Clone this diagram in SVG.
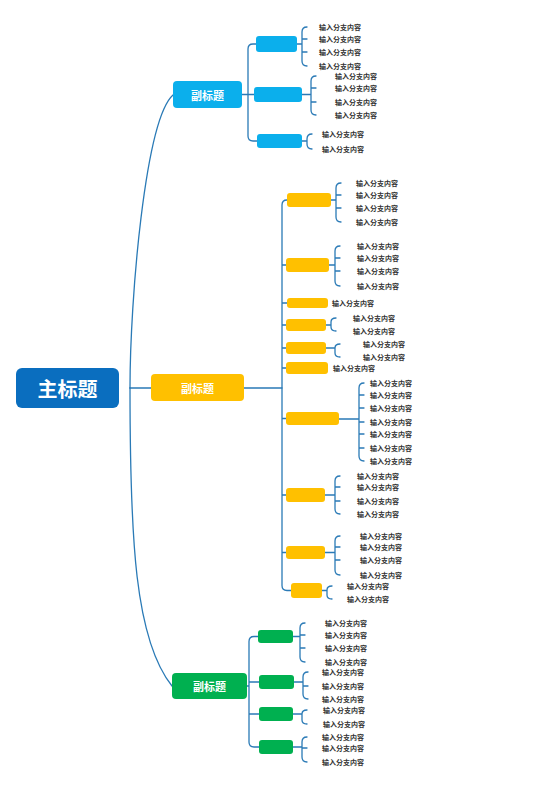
<svg xmlns="http://www.w3.org/2000/svg" width="560" height="792" viewBox="0 0 560 792">
<style>
.c{fill:none;stroke:#2a7ab6;stroke-width:1.3;stroke-linecap:round;stroke-linejoin:round}
.t{font-family:"Noto Sans CJK SC","Liberation Sans",sans-serif;font-size:7px;font-weight:bold;fill:#333;dominant-baseline:central}
.st{font-family:"Noto Sans CJK SC","Liberation Sans",sans-serif;font-size:11px;font-weight:bold;fill:#fff;text-anchor:middle;dominant-baseline:central}
.mt{font-family:"Noto Sans CJK SC","Liberation Sans",sans-serif;font-size:20px;font-weight:bold;fill:#fff;text-anchor:middle;dominant-baseline:central}
.b{fill:#0bafec}.y{fill:#ffc000}.g{fill:#00b050}
</style>
<rect width="560" height="792" fill="#fff"/>
<g id="connectors">
<path class="c" d="M130,388 C130,300 145,120 173,95"/>
<path class="c" d="M130,388 C130,540 135,640 172,686"/>
<path class="c" d="M130,388 H151 M244,388 H282"/>
<!-- blue -->
<path class="c" d="M242,94.5 H254 M256,44 H253 Q248,44 248,49 V136 Q248,141 253,141 H257"/>
<path class="c" d="M297,44 H302 M307,27 Q302,27 302,32 V61 Q302,66 307,66 M302,39 H307 M302,52 H307"/>
<path class="c" d="M302,94.5 H311 M316,76 Q311,76 311,81 V110 Q311,115 316,115 M311,88 H316 M311,102 H316"/>
<path class="c" d="M302,141 H307 M312,134 Q307,134 307,139 V144 Q307,149 312,149"/>
<!-- yellow -->
<path class="c" d="M287,200 Q282,200 282,205 V585.5 Q282,590.5 287,590.5 H291 M282,265 H286 M282,303 H287 M282,325 H286 M282,348 H286 M282,368 H286 M282,418.5 H286 M282,495 H286 M282,552.5 H286"/>
<path class="c" d="M331,200 H336 M341,183 Q336,183 336,188 V217 Q336,222 341,222 M336,195 H341 M336,208 H341"/>
<path class="c" d="M329,265 H335 M340,246 Q335,246 335,251 V281 Q335,286 340,286 M335,258 H340 M335,271 H340"/>
<path class="c" d="M326,325 H331 M336,318 Q331,318 331,322 V327 Q331,331 336,331"/>
<path class="c" d="M326,348 H335 M340,344 Q335,344 335,348 V353 Q335,357 340,357"/>
<path class="c" d="M339,419 H359 M364,383 Q359,383 359,388 V456 Q359,461 364,461 M359,395 H364 M359,408 H364 M359,422 H364 M359,434 H364 M359,448 H364"/>
<path class="c" d="M325,495 H335 M340,476 Q335,476 335,481 V509 Q335,514 340,514 M335,487 H340 M335,501 H340"/>
<path class="c" d="M325,552.5 H335 M340,536 Q335,536 335,541 V570 Q335,575 340,575 M335,547 H340 M335,560 H340"/>
<path class="c" d="M322,590.5 H327 M332,586 Q327,586 327,590 V595 Q327,599 332,599"/>
<!-- green -->
<path class="c" d="M247,686 H249 M258,636.5 H254 Q249,636.5 249,641.5 V742 Q249,747 254,747 H259 M249,682 H259 M249,714 H259"/>
<path class="c" d="M293,636.5 H300 M305,623 Q300,623 300,628 V657 Q300,662 305,662 M300,635 H305 M300,648 H305"/>
<path class="c" d="M294,682 H303 M308,672 Q303,672 303,677 V694 Q303,699 308,699 M303,686 H308"/>
<path class="c" d="M293,714 H302 M307,710 Q302,710 302,714 V720 Q302,724 307,724"/>
<path class="c" d="M293,747 H302 M307,737 Q302,737 302,742 V757 Q302,762 307,762 M302,748 H307"/>
</g>
<g id="main"><rect x="16" y="368" width="103" height="40" rx="6" fill="#0a6ebf"/><text class="mt" x="67.5" y="388">主标题</text></g>
<g id="sub-blue"><rect class="b" x="173" y="81" width="69" height="27" rx="4"/><text class="st" x="207.5" y="94.5">副标题</text></g>
<g id="b1"><rect class="b" x="256" y="36" width="41" height="16" rx="3"/><text class="t" x="319" y="27">输入分支内容</text><text class="t" x="319" y="39">输入分支内容</text><text class="t" x="319" y="52">输入分支内容</text><text class="t" x="319" y="66">输入分支内容</text></g>
<g id="b2"><rect class="b" x="254" y="87" width="48" height="15" rx="3"/><text class="t" x="335" y="76">输入分支内容</text><text class="t" x="335" y="88">输入分支内容</text><text class="t" x="335" y="102">输入分支内容</text><text class="t" x="335" y="115">输入分支内容</text></g>
<g id="b3"><rect class="b" x="257" y="134" width="45" height="14" rx="3"/><text class="t" x="322" y="134">输入分支内容</text><text class="t" x="322" y="149">输入分支内容</text></g>
<g id="sub-yellow"><rect class="y" x="151" y="374" width="93" height="27" rx="4"/><text class="st" x="197.5" y="387.5">副标题</text></g>
<g id="y1"><rect class="y" x="287" y="193" width="44" height="14" rx="3"/><text class="t" x="356" y="183">输入分支内容</text><text class="t" x="356" y="195">输入分支内容</text><text class="t" x="356" y="208">输入分支内容</text><text class="t" x="356" y="222">输入分支内容</text></g>
<g id="y2"><rect class="y" x="286" y="258" width="43" height="14" rx="3"/><text class="t" x="357" y="246">输入分支内容</text><text class="t" x="357" y="258">输入分支内容</text><text class="t" x="357" y="271">输入分支内容</text><text class="t" x="357" y="286">输入分支内容</text></g>
<g id="y3"><rect class="y" x="287" y="298" width="41" height="10" rx="3"/><text class="t" x="332" y="303">输入分支内容</text></g>
<g id="y4"><rect class="y" x="286" y="319" width="40" height="12" rx="3"/><text class="t" x="353" y="318">输入分支内容</text><text class="t" x="353" y="331">输入分支内容</text></g>
<g id="y5"><rect class="y" x="286" y="342" width="40" height="12" rx="3"/><text class="t" x="363" y="344">输入分支内容</text><text class="t" x="363" y="357">输入分支内容</text></g>
<g id="y6"><rect class="y" x="286" y="362" width="42" height="12" rx="3"/><text class="t" x="333" y="368">输入分支内容</text></g>
<g id="y7"><rect class="y" x="286" y="412" width="53" height="13" rx="3"/><text class="t" x="370" y="383">输入分支内容</text><text class="t" x="370" y="395">输入分支内容</text><text class="t" x="370" y="408">输入分支内容</text><text class="t" x="370" y="422">输入分支内容</text><text class="t" x="370" y="434">输入分支内容</text><text class="t" x="370" y="448">输入分支内容</text><text class="t" x="370" y="461">输入分支内容</text></g>
<g id="y8"><rect class="y" x="286" y="488" width="39" height="14" rx="3"/><text class="t" x="357" y="476">输入分支内容</text><text class="t" x="357" y="487">输入分支内容</text><text class="t" x="357" y="501">输入分支内容</text><text class="t" x="357" y="514">输入分支内容</text></g>
<g id="y9"><rect class="y" x="286" y="546" width="39" height="13" rx="3"/><text class="t" x="360" y="536">输入分支内容</text><text class="t" x="360" y="547">输入分支内容</text><text class="t" x="360" y="560">输入分支内容</text><text class="t" x="360" y="575">输入分支内容</text></g>
<g id="y10"><rect class="y" x="291" y="583" width="31" height="15" rx="3"/><text class="t" x="347" y="586">输入分支内容</text><text class="t" x="347" y="599">输入分支内容</text></g>
<g id="sub-green"><rect class="g" x="172" y="673" width="75" height="26" rx="4"/><text class="st" x="209.5" y="686">副标题</text></g>
<g id="g1"><rect class="g" x="258" y="630" width="35" height="13" rx="3"/><text class="t" x="325" y="623">输入分支内容</text><text class="t" x="325" y="635">输入分支内容</text><text class="t" x="325" y="648">输入分支内容</text><text class="t" x="325" y="662">输入分支内容</text></g>
<g id="g2"><rect class="g" x="259" y="675" width="35" height="14" rx="3"/><text class="t" x="322" y="672">输入分支内容</text><text class="t" x="322" y="686">输入分支内容</text><text class="t" x="322" y="699">输入分支内容</text></g>
<g id="g3"><rect class="g" x="259" y="707" width="34" height="14" rx="3"/><text class="t" x="323" y="710">输入分支内容</text><text class="t" x="323" y="724">输入分支内容</text></g>
<g id="g4"><rect class="g" x="259" y="740" width="34" height="14" rx="3"/><text class="t" x="322" y="737">输入分支内容</text><text class="t" x="322" y="748">输入分支内容</text><text class="t" x="322" y="762">输入分支内容</text></g>
</svg>
